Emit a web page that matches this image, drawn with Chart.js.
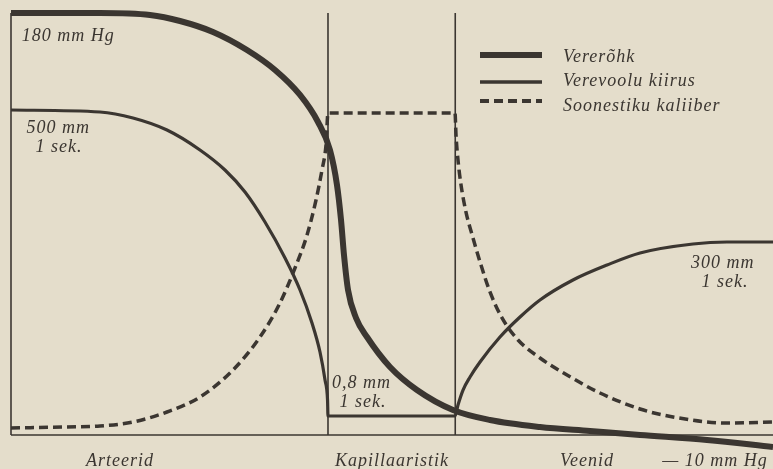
<!DOCTYPE html>
<html>
<head>
<meta charset="utf-8">
<script src="https://cdn.jsdelivr.net/npm/chart.js@4"></script>
<style>
  html, body { margin: 0; padding: 0; background: #e4ddcb; }
  #wrap { width: 773px; height: 469px; }
</style>
</head>
<body>
<div id="wrap"><canvas id="chart"></canvas></div>
<script>
const seriesNames = ['Vererõhk', 'Verevoolu kiirus', 'Soonestiku kaliiber'];

// relative position along the vessel (0-100) and relative level (0-100)
const pressureX = [0, 11.68, 18.24, 22.18, 26.51, 30.97, 34.65, 37.93, 40.29, 41.86, 42.78, 43.31, 43.70, 44.23, 45.28, 46.72, 49.74, 53.28, 58.01, 62.86, 69.42, 75.98, 82.55, 91.34, 100];
const pressureY = [100, 100, 99.53, 98.10, 95.50, 91.23, 86.49, 80.57, 74.17, 67.54, 59.24, 50.95, 42.65, 34.36, 27.73, 23.22, 16.11, 10.66, 5.92, 3.55, 1.90, 0.95, 0, -1.18, -2.84];

const velocityX = [0, 11.68, 16.01, 20.47, 24.80, 28.08, 30.71, 33.33, 35.96, 37.93, 39.50, 40.55, 41.21, 41.54, 41.60, 58.27, 58.66, 59.32, 60.24, 61.55, 64.17, 66.80, 69.42, 73.75, 78.22, 82.55, 89.50, 93.96, 100];
const velocityY = [77.01, 76.54, 75.12, 72.27, 67.54, 62.80, 57.58, 50.47, 41.94, 34.36, 26.54, 19.67, 13.03, 8.29, 4.50, 4.50, 7.11, 10.66, 13.74, 17.30, 23.22, 27.96, 31.99, 36.73, 40.28, 43.13, 45.26, 45.73, 45.73];

const caliberX = [0, 7.35, 11.68, 16.01, 20.47, 24.80, 29.13, 32.68, 35.30, 37.27, 38.85, 40.03, 40.81, 41.34, 41.60, 58.27, 58.40, 58.66, 59.06, 59.71, 60.63, 61.68, 62.86, 64.44, 66.54, 69.42, 72.97, 77.30, 82.55, 86.88, 93.96, 100];
const caliberY = [1.66, 1.90, 2.13, 3.08, 5.45, 9.00, 15.40, 23.22, 31.28, 39.57, 47.39, 55.69, 62.80, 68.72, 76.30, 76.30, 71.09, 65.17, 59.24, 52.84, 46.68, 40.28, 33.89, 27.73, 22.51, 18.25, 14.22, 9.95, 6.16, 4.27, 2.84, 3.08];

// borders between arteries, capillaries and veins
const regionBounds = [0, 41.6, 58.3, 100];
const regionLabels = ['Arteerid', 'Kapillaaristik', 'Veenid', '— 10 mm Hg'];

const ink = '#3b3631';
const serif = 'italic 18px "Liberation Serif", "DejaVu Serif", serif';

function pts(xs, ys) {
  return xs.map((x, i) => ({ x: x, y: ys[i] }));
}

function frameLine(a, b) {
  return {
    data: [a, b],
    borderColor: ink,
    borderWidth: 1.6,
    pointRadius: 0,
    tension: 0,
    clip: false
  };
}

const frame = [
  frameLine({ x: regionBounds[0], y: 0 }, { x: regionBounds[0], y: 100 }),
  frameLine({ x: regionBounds[1], y: 0 }, { x: regionBounds[1], y: 100 }),
  frameLine({ x: regionBounds[2], y: 0 }, { x: regionBounds[2], y: 100 }),
  frameLine({ x: regionBounds[0], y: 0 }, { x: regionBounds[3], y: 0 })
];

const valueNotes = [
  { x: 1.4, y: 94.5, text: '180 mm Hg', align: 'left' },
  { x: 6.2, y: 72.7, text: '500 mm', align: 'center' },
  { x: 6.3, y: 68.2, text: '1 sek.', align: 'center' },
  { x: 46.0, y: 12.3, text: '0,8 mm', align: 'center' },
  { x: 46.2, y: 7.8, text: '1 sek.', align: 'center' },
  { x: 93.4, y: 40.8, text: '300 mm', align: 'center' },
  { x: 93.7, y: 36.3, text: '1 sek.', align: 'center' }
];
const regionLabelAt = [14.3, 50.0, 75.6, 92.4];

const paper = {
  id: 'paper',
  beforeDraw(chart) {
    const c = chart.ctx;
    c.save();
    c.fillStyle = '#e4ddcb';
    c.fillRect(0, 0, chart.width, chart.height);
    c.restore();
  }
};

const notes = {
  id: 'notes',
  afterDatasetsDraw(chart) {
    const c = chart.ctx;
    const xs = chart.scales.x, ys = chart.scales.y;
    const area = chart.chartArea;
    c.save();
    c.font = serif;
    c.letterSpacing = '1px';
    c.fillStyle = ink;
    c.textBaseline = 'middle';
    valueNotes.forEach(n => {
      c.textAlign = n.align;
      c.fillText(n.text, xs.getPixelForValue(n.x), ys.getPixelForValue(n.y));
    });
    c.textAlign = 'center';
    regionLabels.forEach((t, i) => {
      c.fillText(t, xs.getPixelForValue(regionLabelAt[i]), area.bottom + 26);
    });

    // legend
    const rows = [
      { line: 55, text: 57, width: 6, dash: [] },
      { line: 82, text: 81, width: 3.5, dash: [] },
      { line: 101, text: 106, width: 4, dash: [9, 5] }
    ];
    c.textAlign = 'left';
    rows.forEach((r, i) => {
      c.beginPath();
      c.lineWidth = r.width;
      c.strokeStyle = ink;
      c.setLineDash(r.dash);
      c.moveTo(480, r.line);
      c.lineTo(542, r.line);
      c.stroke();
      c.setLineDash([]);
      c.fillText(seriesNames[i], 563, r.text);
    });
    c.restore();
  }
};

new Chart(document.getElementById('chart'), {
  type: 'line',
  data: {
    datasets: [
      ...frame,
      {
        label: seriesNames[0],
        data: pts(pressureX, pressureY),
        borderColor: ink,
        borderWidth: 6,
        pointRadius: 0,
        cubicInterpolationMode: 'monotone',
        clip: false
      },
      {
        label: seriesNames[1],
        data: pts(velocityX, velocityY),
        borderColor: ink,
        borderWidth: 3.2,
        pointRadius: 0,
        cubicInterpolationMode: 'monotone',
        clip: false
      },
      {
        label: seriesNames[2],
        data: pts(caliberX, caliberY),
        borderColor: ink,
        borderWidth: 3.5,
        borderDash: [9, 5],
        pointRadius: 0,
        cubicInterpolationMode: 'monotone',
        clip: false
      }
    ]
  },
  options: {
    responsive: true,
    maintainAspectRatio: false,
    animation: false,
    layout: { padding: { left: 11, top: 13, right: 0, bottom: 34 } },
    plugins: { legend: { display: false }, tooltip: { enabled: false } },
    scales: {
      x: { type: 'linear', min: 0, max: 100, display: false },
      y: { min: 0, max: 100, display: false }
    }
  },
  plugins: [paper, notes]
});
</script>
</body>
</html>
